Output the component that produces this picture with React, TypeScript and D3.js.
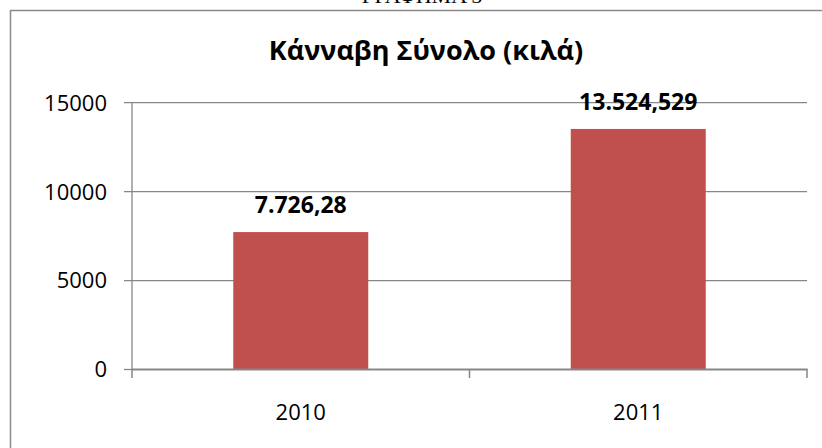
import React, { useRef, useEffect } from "react";
import { select, scaleBand, scaleLinear } from "d3";

const years = ["2010", "2011"];
const totals = [7726.28, 13524.529];
const valueLabels = ["7.726,28", "13.524,529"];
const yTicks = [0, 5000, 10000, 15000];

const FONT = "'Open Sans', Lato, sans-serif";
const GRID = "#878787";

const App = () => {
  const svgRef = useRef<SVGSVGElement>(null);

  useEffect(() => {
    const svg = select(svgRef.current);
    svg.selectAll("*").remove();

    const left = 132, right = 807, top = 102.7, bottom = 369.5;

    const x = scaleBand().domain(years).range([left, right]).padding(0);
    const y = scaleLinear().domain([0, 15000]).range([bottom, top]);
    const barW = x.bandwidth() * 0.4;

    // heading above the chart box, only its lower edge is visible
    svg.append("text")
      .attr("x", 422).attr("y", 2.5)
      .attr("text-anchor", "middle")
      .style("font-family", "'Liberation Serif', serif")
      .style("font-size", "22px")
      .attr("fill", "#000")
      .text("ΓΡΑΦΗΜΑ 5");

    // chart frame
    svg.append("rect")
      .attr("x", 10.5).attr("y", 10.5)
      .attr("width", 840).attr("height", 460)
      .attr("fill", "#fff")
      .attr("stroke", "#8a8a8a").attr("stroke-width", 1.5);

    svg.append("text")
      .attr("x", 426).attr("y", 60)
      .attr("text-anchor", "middle")
      .style("font-family", FONT).style("font-weight", "bold").style("font-size", "27px")
      .text("Κάνναβη Σύνολο (κιλά)");

    // gridlines + y ticks
    const g = svg.append("g");
    g.selectAll("line.grid").data(yTicks).enter().append("line")
      .attr("x1", left - 8).attr("x2", (d) => (d === 0 ? left : right))
      .attr("y1", (d) => y(d)).attr("y2", (d) => y(d))
      .attr("stroke", GRID).attr("stroke-width", 1.3);

    g.selectAll("text.ytick").data(yTicks).enter().append("text")
      .attr("x", 107).attr("y", (d) => y(d))
      .attr("dy", "0.36em")
      .attr("text-anchor", "end")
      .style("font-family", FONT).style("font-size", "22px")
      .text((d) => d);

    // bars
    svg.selectAll("rect.bar").data(totals).enter().append("rect")
      .attr("x", (d, i) => x(years[i])! + x.bandwidth() / 2 - barW / 2)
      .attr("y", (d) => y(d))
      .attr("width", barW)
      .attr("height", (d) => y(0) - y(d))
      .attr("fill", "#C0504D");

    svg.selectAll("text.val").data(totals).enter().append("text")
      .attr("x", (d, i) => x(years[i])! + x.bandwidth() / 2)
      .attr("y", (d) => y(d) - 19)
      .attr("text-anchor", "middle")
      .style("font-family", FONT).style("font-weight", "bold").style("font-size", "23px")
      .text((d, i) => valueLabels[i]);

    // axes
    svg.append("line")
      .attr("x1", left).attr("x2", left).attr("y1", top).attr("y2", bottom)
      .attr("stroke", GRID).attr("stroke-width", 1.3);
    svg.append("line")
      .attr("x1", left).attr("x2", right + 0.7).attr("y1", bottom).attr("y2", bottom)
      .attr("stroke", GRID).attr("stroke-width", 2);

    const xTickPos = [left, ...years.map((yr) => x(yr)! + x.bandwidth())];
    svg.selectAll("line.xtick").data(xTickPos).enter().append("line")
      .attr("x1", (d) => d).attr("x2", (d) => d)
      .attr("y1", bottom).attr("y2", bottom + 8.5)
      .attr("stroke", GRID).attr("stroke-width", 1.5);

    svg.selectAll("text.xlab").data(years).enter().append("text")
      .attr("x", (d) => x(d)! + x.bandwidth() / 2)
      .attr("y", 420)
      .attr("text-anchor", "middle")
      .style("font-family", FONT).style("font-size", "22px")
      .text((d) => d);
  }, []);

  return (
    <div style={{ position: "absolute", left: 0, top: 0 }}>
      <svg ref={svgRef} width={822} height={448} style={{ display: "block" }} />
    </div>
  );
};

export default App;
